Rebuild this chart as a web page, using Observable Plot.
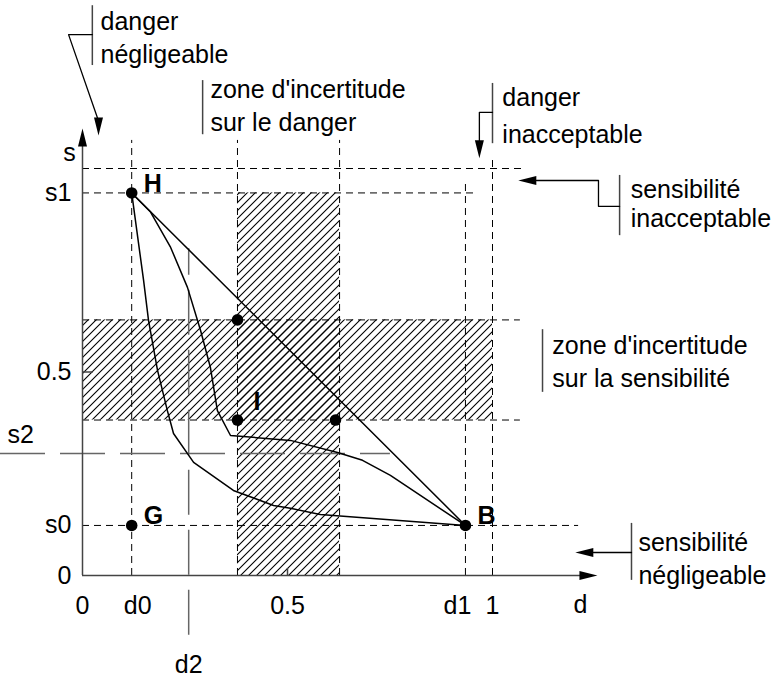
<!DOCTYPE html>
<html><head><meta charset="utf-8">
<script src="https://cdn.jsdelivr.net/npm/d3@7"></script>
<script src="https://cdn.jsdelivr.net/npm/@observablehq/plot@0.6"></script>
<style>
body{margin:0;background:#fff;}
#chart svg{display:block;}
</style></head><body><div id="chart"></div>
<script>
// ---- key values (d = danger, s = sensibilité) ----
const d0 = 0.12, d1 = 0.934, d2 = 0.259;
const s0 = 0.123, s1 = 0.94, s2 = 0.30;
const dangerZone = [0.378, 0.627];   // zone d'incertitude sur le danger (d range)
const sensZone = [0.382, 0.628];     // zone d'incertitude sur la sensibilité (s range)

// ---- axis ticks ----
const xTickValues = [0, 0.5, 1];
const xTickLabels = ["0", "0.5", "1"];
const yTickValues = [0, s0, 0.5, s1];
const yTickLabels = ["0", "s0", "0.5", "s1"];
const axisNames = ["s", "d", "s2", "d2"];
const axisNameD = [-0.032, 1.2146, -0.151, d2];
const axisNameS = [1.039, -0.0737, 0.345, -0.219];

// ---- curves from H to B ----
const straightD = [d0, d1];
const straightS = [s1, s0];
const midCurveD = [0.12, 0.166, 0.215, 0.256, 0.288, 0.312, 0.329, 0.361, 0.507, 0.622, 0.683, 0.751, 0.934];
const midCurveS = [0.94, 0.893, 0.806, 0.708, 0.602, 0.511, 0.405, 0.344, 0.332, 0.302, 0.283, 0.246, 0.123];
const lowCurveD = [0.12, 0.149, 0.161, 0.183, 0.207, 0.222, 0.271, 0.368, 0.466, 0.507, 0.580, 0.934];
const lowCurveS = [0.94, 0.725, 0.627, 0.504, 0.405, 0.349, 0.278, 0.209, 0.172, 0.165, 0.150, 0.123];

// ---- points ----
const pointNames = ["H", "G", "B", "I", "", ""];
const pointD = [d0, d0, d1, 0.378, 0.378, 0.617];
const pointS = [s1, s0, s0, 0.382, 0.628, 0.382];

// ---- dashed guide lines ----
const hGuideS = [1, s1, sensZone[1], sensZone[0], s0];
const hGuideEnd = [1.073, 0.959, 1.068, 1.068, 1.21];
const vGuideD = [d0, dangerZone[0], dangerZone[1], d1, 1];
const vGuideEnd = [1.069, 1.069, 1.069, 0.963, 1.027];

// ---- annotations ----
const noteText = ["danger", "négligeable", "zone d'incertitude", "sur le danger", "danger", "inacceptable",
  "sensibilité", "inacceptable", "zone d'incertitude", "sur la sensibilité", "sensibilité", "négligeable"];
const noteD = [0.044, 0.044, 0.312, 0.312, 1.024, 1.024, 1.337, 1.337, 1.146, 1.146, 1.356, 1.356];
const noteS = [1.361, 1.278, 1.192, 1.113, 1.174, 1.083, 0.948, 0.875, 0.565, 0.482, 0.081, 0.0];
const barD = [0.024, 0.293, 1.0, 1.31, 1.122, 1.339];
const barS1 = [1.253, 1.083, 1.061, 0.835, 0.450, -0.012];
const barS2 = [1.400, 1.216, 1.209, 0.983, 0.604, 0.128];
const connId = ["a", "a", "a", "c", "c", "c", "d", "d", "d", "d", "f", "f"];
const connD = [0.024, -0.034, 0.037, 1.0, 0.968, 0.968, 1.31, 1.2585, 1.2585, 1.107, 1.339, 1.246];
const connS = [1.329, 1.329, 1.123, 1.138, 1.138, 1.069, 0.907, 0.907, 0.9705, 0.9705, 0.0565, 0.0565];
const arrowD = [0.039, 0.968, 1.063, 1.202, 0, 1.256];
const arrowS = [1.081, 1.025, 0.9705, 0.0565, 1.098, 0];
const arrowRot = [180, 180, 270, 270, 0, 90];

// ---- build tables ----
const zones = [
  {x1: dangerZone[0], x2: dangerZone[1], y1: 0, y2: s1},
  {x1: 0, x2: 1, y1: sensZone[0], y2: sensZone[1]}
];
const curves = [
  ...straightD.map((d, i) => ({c: "straight", d, s: straightS[i]})),
  ...midCurveD.map((d, i) => ({c: "mid", d, s: midCurveS[i]})),
  ...lowCurveD.map((d, i) => ({c: "low", d, s: lowCurveS[i]}))
];
const points = pointD.map((d, i) => ({d, s: pointS[i], name: pointNames[i]}));
const hGuides = hGuideS.map((s, i) => ({s, x2: hGuideEnd[i]}));
const vGuides = vGuideD.map((d, i) => ({d, y2: vGuideEnd[i]}));
const notes = noteText.map((t, i) => ({t, d: noteD[i], s: noteS[i]}));
const bars = barD.map((d, i) => ({d, y1: barS1[i], y2: barS2[i]}));
const conns = connD.map((d, i) => ({id: connId[i], d, s: connS[i]}));
const arrows = arrowD.map((d, i) => ({d, s: arrowS[i], r: arrowRot[i]}));
const names = axisNames.map((t, i) => ({t, d: axisNameD[i], s: axisNameS[i]}));

const arrowHead = {draw(ctx) { ctx.moveTo(0, 0); ctx.lineTo(-4.5, 18); ctx.lineTo(4.5, 18); ctx.closePath(); }};
const FS = 25;
const xAxisOpts = {tickSize: 0, tickPadding: 21, fontSize: FS, label: null, anchor: "bottom"};

const plot = Plot.plot({
  width: 779, height: 677,
  marginLeft: 82, marginRight: 0, marginTop: 0, marginBottom: 102,
  x: {domain: [0, 1.7]},
  y: {domain: [0, 1.4128]},
  style: {fontFamily: "'Liberation Sans', Arial, Helvetica, sans-serif", fontSize: "25px", background: "white", overflow: "visible"},
  marks: [
    Plot.rect(zones, {x1: "x1", x2: "x2", y1: "y1", y2: "y2", fill: "url(#hatch)"}),
    Plot.ruleY(hGuides, {y: "s", x1: 0, x2: "x2", stroke: "black", strokeWidth: 1, strokeDasharray: "7,5"}),
    Plot.ruleX(vGuides, {x: "d", y1: 0, y2: "y2", stroke: "black", strokeWidth: 1, strokeDasharray: "7,5"}),
    Plot.ruleY([s2], {x1: -0.2, x2: 0.751, stroke: "#666", strokeWidth: 1.5, strokeDasharray: "45,15"}),
    Plot.ruleX([d2], {y1: -0.147, y2: 0.803, stroke: "#666", strokeWidth: 1.5, strokeDasharray: "45,15"}),
    Plot.ruleY([0], {x1: 0, x2: 1.24, stroke: "#444", strokeWidth: 1.5}),
    Plot.ruleX([0], {y1: 0, y2: 1.07, stroke: "#444", strokeWidth: 1.5}),
    Plot.ruleX([0.5], {y1: 0, y2: 0.017, stroke: "#444", strokeWidth: 1.5}),
    Plot.ruleY([0.5], {x1: 0, x2: 0.026, stroke: "#444", strokeWidth: 1.5}),
    Plot.line(curves, {x: "d", y: "s", z: "c", stroke: "black", strokeWidth: 1.5}),
    Plot.dot(points, {x: "d", y: "s", r: 5.8, fill: "black", stroke: "none"}),
    Plot.text(points, {filter: p => p.name && p.name !== "I", x: "d", y: "s", text: "name", dx: 12, dy: -9, textAnchor: "start", fontWeight: "bold", fontSize: FS}),
    Plot.text(points, {filter: p => p.name === "I", x: "d", y: "s", text: "name", dx: 16, dy: -18, textAnchor: "start", fontWeight: "bold", fontSize: FS}),
    Plot.axisX({...xAxisOpts, ticks: xTickValues, tickFormat: v => xTickLabels[xTickValues.indexOf(v)]}),
    Plot.axisX({...xAxisOpts, ticks: [d0], tickFormat: () => "d0", dx: 6}),
    Plot.axisX({...xAxisOpts, ticks: [d1], tickFormat: () => "d1", dx: -8}),
    Plot.axisY({ticks: yTickValues, tickFormat: v => yTickLabels[yTickValues.indexOf(v)], tickSize: 0, tickPadding: 11, fontSize: FS, label: null, anchor: "left"}),
    Plot.text(names, {x: "d", y: "s", text: "t", textAnchor: "middle", fontSize: FS}),
    Plot.ruleX(bars, {x: "d", y1: "y1", y2: "y2", stroke: "#444", strokeWidth: 1.5}),
    Plot.line(conns, {x: "d", y: "s", z: "id", stroke: "black", strokeWidth: 1.3}),
    Plot.dot(arrows, {x: "d", y: "s", rotate: "r", symbol: arrowHead, r: 5, fill: "black", stroke: "none"}),
    Plot.text(notes, {x: "d", y: "s", text: "t", textAnchor: "start", fontSize: FS})
  ]
});

d3.select(plot).insert("defs", ":first-child").html(
  '<pattern id="hatch" patternUnits="userSpaceOnUse" width="8" height="8">' +
  '<path d="M-2,2 l4,-4 M0,8 l8,-8 M6,10 l4,-4" stroke="black" stroke-width="1.1"/></pattern>');

document.getElementById("chart").appendChild(plot);
</script>
</body></html>
